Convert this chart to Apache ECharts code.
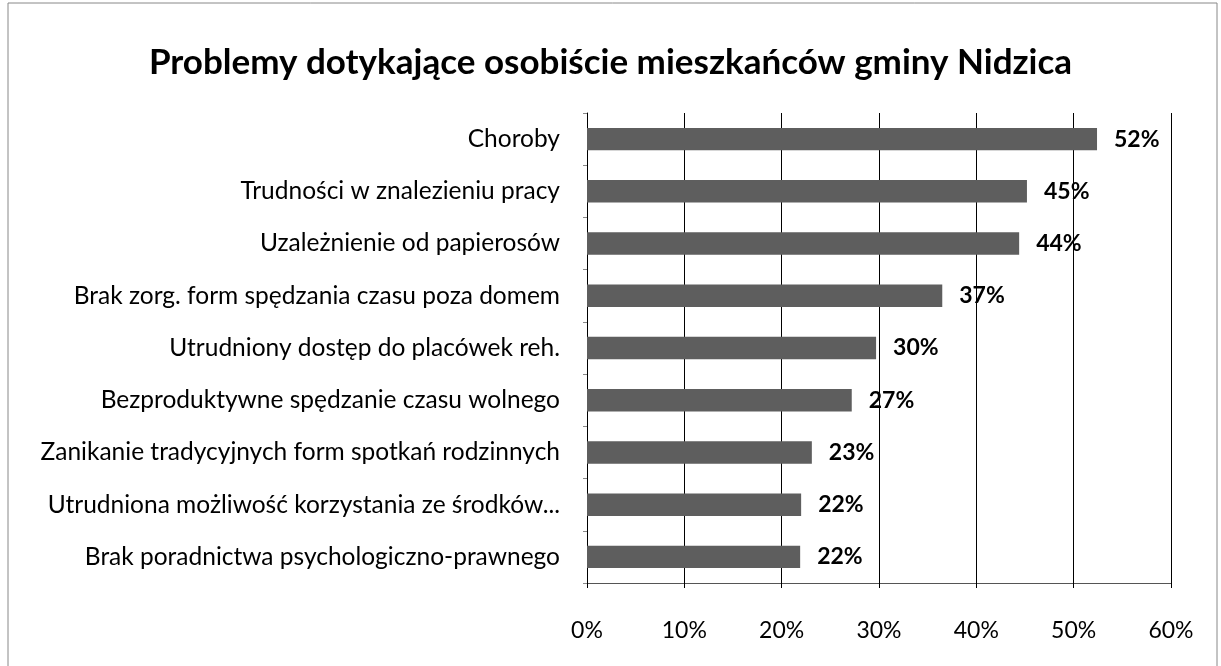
<!DOCTYPE html>
<html>
<head>
<meta charset="utf-8">
<script src="https://cdn.jsdelivr.net/npm/echarts@6/dist/echarts.min.js"></script>
<style>
	html, body { margin: 0; padding: 0; background: #fff; }
	#chart1 { width: 1221px; height: 666px; }
</style>
</head>
<body>
<div id="chart1"></div>
<script>
// kategorie (od dołu do góry, jak na osi kategorii)
var categories = [
	'Brak poradnictwa psychologiczno-prawnego',
	'Utrudniona możliwość korzystania ze środków...',
	'Zanikanie tradycyjnych form spotkań rodzinnych',
	'Bezproduktywne spędzanie czasu wolnego',
	'Utrudniony dostęp do placówek reh.',
	'Brak zorg. form spędzania czasu poza domem',
	'Uzależnienie od papierosów',
	'Trudności w znalezieniu pracy',
	'Choroby'
];
// wartości w procentach
var values = [21.9, 22.0, 23.1, 27.2, 29.7, 36.5, 44.4, 45.2, 52.4];
var xTicks = [0, 10, 20, 30, 40, 50, 60];

function chart1() {
	var myChart = echarts.init(document.getElementById('chart1'));
	var option = {
		backgroundColor: '#fff',
		animation: false,
		title: {
			text: 'Problemy dotykające osobiście mieszkańców gminy Nidzica',
			left: 'center',
			top: 40,
			textStyle: {
				fontFamily: 'Lato',
				fontWeight: 'bold',
				fontSize: 35,
				color: '#000'
			}
		},
		graphic: [{
			type: 'rect',
			shape: { x: 8, y: 3, width: 1209, height: 680 },
			style: { fill: 'none', stroke: '#888', lineWidth: 1 }
		}],
		grid: {
			left: 587,
			right: 50,
			top: 113,
			bottom: 83,
			containLabel: false
		},
		xAxis: {
			type: 'value',
			min: 0,
			max: 60,
			interval: 10,
			axisLine: {
				show: true,
				lineStyle: { color: '#555', width: 1 }
			},
			axisTick: {
				show: true,
				length: 5,
				lineStyle: { color: '#000' }
			},
			splitLine: {
				show: true,
				lineStyle: { color: '#000', width: 1 }
			},
			axisLabel: {
				margin: 36,
				fontFamily: 'Lato',
				fontSize: 23,
				color: '#000',
				formatter: function(v) {
					return xTicks.indexOf(v) > -1 ? v + '%' : '';
				}
			}
		},
		yAxis: {
			type: 'category',
			data: categories,
			axisLine: {
				show: true,
				lineStyle: { color: '#000', width: 1 }
			},
			axisTick: {
				show: true,
				length: 4,
				lineStyle: { color: '#888' }
			},
			axisLabel: {
				margin: 27,
				fontFamily: 'Lato',
				fontSize: 24.5,
				color: '#000'
			}
		},
		series: [{
			type: 'bar',
			data: values,
			barWidth: '43%',
			itemStyle: {
				color: '#5e5e5e'
			},
			label: {
				show: true,
				position: 'right',
				distance: 17,
				fontFamily: 'Lato',
				fontWeight: 'bold',
				fontSize: 23,
				color: '#000',
				formatter: function(p) {
					return Math.round(p.value) + '%';
				}
			}
		}]
	};
	myChart.setOption(option);
}

chart1();
</script>
</body>
</html>
